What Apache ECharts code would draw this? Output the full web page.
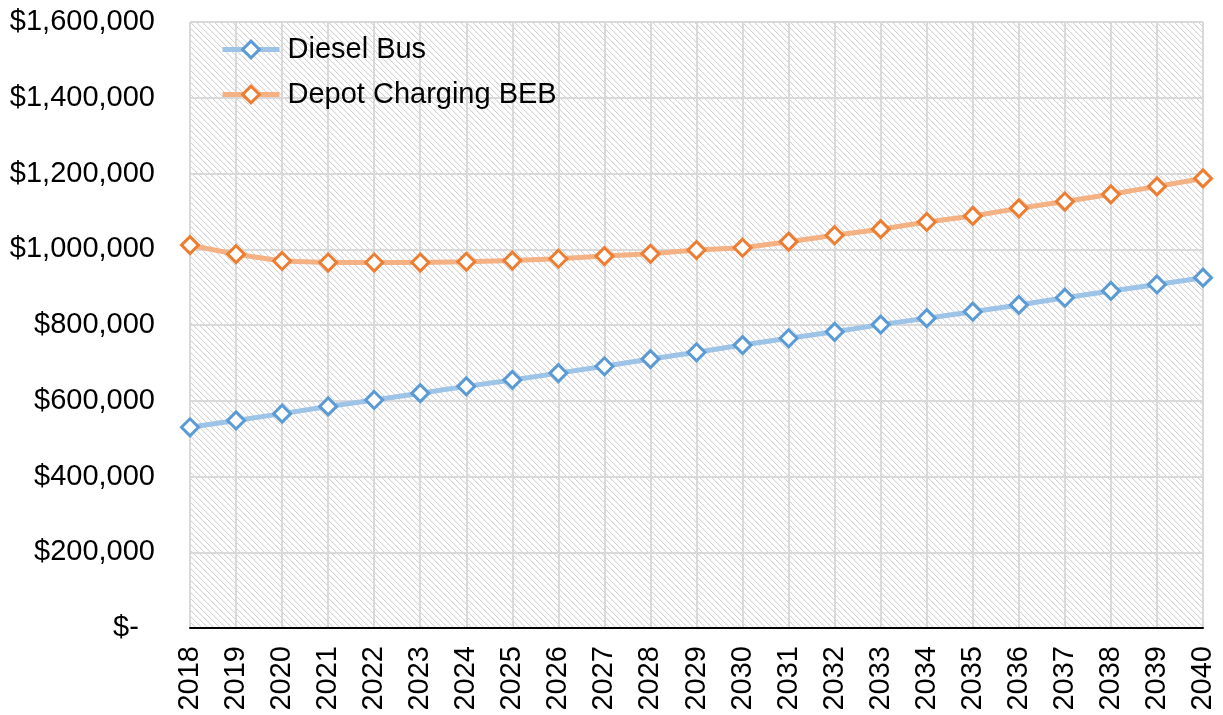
<!DOCTYPE html>
<html>
<head>
<meta charset="utf-8">
<script src="https://cdn.jsdelivr.net/npm/echarts@6/dist/echarts.min.js"></script>
<style>html,body{margin:0;padding:0;background:#fff;}#main{width:1223px;height:715px;}</style>
</head>
<body>
<div id="main"></div>
<script>
const years = ['2018','2019','2020','2021','2022','2023','2024','2025','2026','2027','2028','2029','2030','2031','2032','2033','2034','2035','2036','2037','2038','2039','2040'];
const dieselBus = [530000,548000,566000,585000,602000,620000,638000,655000,673000,691000,710000,728000,747000,765000,782000,801000,818000,835000,853000,872000,890000,907000,925000];
const depotBEB = [1011000,987000,969000,965000,965000,965000,967000,970000,975000,982000,988000,998000,1004000,1020000,1037000,1053000,1072000,1088000,1108000,1126000,1145000,1166000,1187000];
const yTicks = [0,200000,400000,600000,800000,1000000,1200000,1400000,1600000];

const FONT = "'Liberation Sans', Arial, sans-serif";

// hatch pattern for plot area
const P = 6;
const pc = document.createElement('canvas');
pc.width = P; pc.height = P;
const pctx = pc.getContext('2d');
pctx.fillStyle = '#ffffff';
pctx.fillRect(0,0,P,P);
for (let i = 0; i < P; i++) {
  pctx.fillStyle = '#d4d4d4';
  pctx.fillRect(i, i, 1, 1);
  pctx.fillStyle = '#f4f4f4';
  pctx.fillRect((i + 1) % P, i, 1, 1);
}

const chart = echarts.init(document.getElementById('main'));
chart.setOption({
  animation: false,
  backgroundColor: '#ffffff',
  textStyle: { fontFamily: FONT },
  grid: {
    left: 190, right: 20, top: 22, bottom: 87,
    show: true,
    borderWidth: 0,
    backgroundColor: { image: pc, repeat: 'repeat' },
    outerBoundsMode: 'none'
  },
  legend: {
    orient: 'vertical',
    left: 215, top: 30,
    itemWidth: 57, itemHeight: 21,
    itemGap: 16,
    lineStyle: { width: 5 },
    itemStyle: { borderWidth: 3 },
    textStyle: { fontFamily: FONT, fontSize: 29, color: '#000', padding: [0,0,0,3] },
    data: ['Diesel Bus', 'Depot Charging BEB']
  },
  xAxis: {
    type: 'category',
    data: years,
    boundaryGap: false,
    axisLine: { show: true, lineStyle: { color: '#000', width: 2 } },
    axisTick: { show: false },
    axisLabel: { rotate: 90, margin: 18, fontSize: 29, color: '#000', fontFamily: FONT, interval: 0 },
    splitLine: { show: true, lineStyle: { color: '#d9d9d9', width: 2 } }
  },
  yAxis: {
    type: 'value',
    min: yTicks[0], max: yTicks[yTicks.length - 1], interval: yTicks[1] - yTicks[0],
    axisLine: { show: false },
    axisTick: { show: false },
    axisLabel: {
      margin: 35, fontSize: 29, color: '#000', fontFamily: FONT,
      formatter: v => v === 0 ? '$-  ' : '$' + v.toLocaleString('en-US')
    },
    splitLine: { show: true, lineStyle: { color: '#d9d9d9', width: 2 } }
  },
  series: [
    {
      name: 'Diesel Bus', type: 'line', data: dieselBus,
      symbol: 'diamond', symbolSize: 17,
      lineStyle: { color: '#9DC3E6', width: 5 },
      itemStyle: { color: '#ffffff', borderColor: '#5B9BD5', borderWidth: 3 }
    },
    {
      name: 'Depot Charging BEB', type: 'line', data: depotBEB,
      symbol: 'diamond', symbolSize: 17,
      lineStyle: { color: '#F4B183', width: 5 },
      itemStyle: { color: '#ffffff', borderColor: '#ED7D31', borderWidth: 3 }
    }
  ]
});
</script>
</body>
</html>
